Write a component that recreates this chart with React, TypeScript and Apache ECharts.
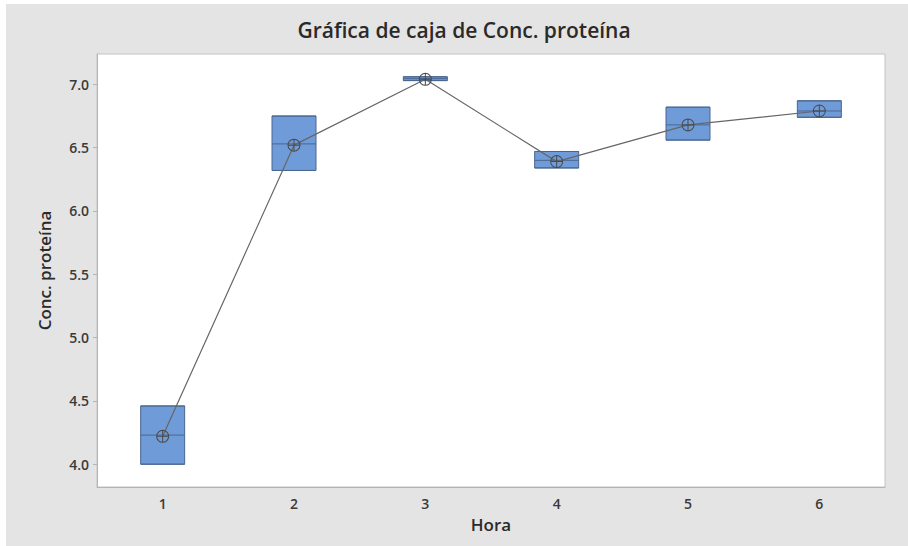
import React, { useEffect, useRef } from "react";
import * as echarts from "echarts";

const horas = ["1", "2", "3", "4", "5", "6"];
// [min, Q1, median, Q3, max]
const cajas = [
  [4.0, 4.0, 4.23, 4.46, 4.46],
  [6.32, 6.32, 6.53, 6.75, 6.75],
  [7.03, 7.03, 7.045, 7.06, 7.06],
  [6.34, 6.34, 6.4, 6.47, 6.47],
  [6.56, 6.56, 6.68, 6.82, 6.82],
  [6.74, 6.74, 6.79, 6.87, 6.87],
];
const medias = [4.22, 6.52, 7.04, 6.39, 6.68, 6.79];
const yTicks = [4.0, 4.5, 5.0, 5.5, 6.0, 6.5, 7.0];

const FONT = "'Open Sans', 'Noto Sans', sans-serif";
const meanSymbol =
  "path://M0,-6.5A6.5,6.5,0,1,1,0,6.5A6.5,6.5,0,1,1,0,-6.5ZM0,-5.5A5.5,5.5,0,1,0,0,5.5A5.5,5.5,0,1,0,0,-5.5ZM-5.5,-0.5H5.5V0.5H-5.5ZM-0.5,-5.5H0.5V-0.5H-0.5ZM-0.5,0.5H0.5V5.5H-0.5Z";

export default function App() {
  const ref = useRef<HTMLDivElement>(null);
  useEffect(() => {
    if (!ref.current) return;
    const chart = echarts.init(ref.current, null, { renderer: "svg" });
    chart.setOption({
      animation: false,
      backgroundColor: "#ffffff",
      graphic: [
        {
          type: "rect",
          z: -10,
          silent: true,
          shape: { x: 6, y: 4, width: 920, height: 560 },
          style: { fill: "#e4e4e4" },
        },
        {
          type: "text",
          x: 464,
          y: 30,
          style: {
            text: "Gráfica de caja de Conc. proteína",
            font: `600 21px ${FONT}`,
            fill: "#2a2a2a",
            textAlign: "center",
            textVerticalAlign: "middle",
          },
        },
      ],
      grid: {
        left: 97,
        top: 54,
        right: 23,
        bottom: 59,
        show: true,
        backgroundColor: "#ffffff",
        borderColor: "#c4c4c4",
        borderWidth: 1,
      },
      xAxis: {
        type: "category",
        data: horas,
        boundaryGap: true,
        name: "Hora",
        nameLocation: "middle",
        nameGap: 29,
        nameTextStyle: { fontFamily: FONT, fontSize: 17, fontWeight: 600, color: "#2a2a2a" },
        axisLine: { lineStyle: { color: "#b4b4b4" } },
        axisTick: { alignWithLabel: true, length: 4, lineStyle: { color: "#b4b4b4" } },
        axisLabel: { fontFamily: FONT, fontSize: 14, fontWeight: 600, color: "#3a3a3a", margin: 9 },
        splitLine: { show: false },
      },
      yAxis: {
        type: "value",
        min: 3.82,
        max: 7.24,
        name: "Conc. proteína",
        nameLocation: "middle",
        nameGap: 44,
        nameRotate: 90,
        nameTextStyle: { fontFamily: FONT, fontSize: 17, fontWeight: 600, color: "#2a2a2a" },
        axisLine: { show: true, lineStyle: { color: "#b4b4b4" } },
        axisTick: { show: true, length: 4, customValues: yTicks, lineStyle: { color: "#b4b4b4" } },
        axisLabel: {
          customValues: yTicks,
          fontFamily: FONT,
          fontSize: 14,
          fontWeight: 600,
          color: "#3a3a3a",
          margin: 8,
          formatter: (v: number) => v.toFixed(1),
        },
        splitLine: { show: false },
      },
      series: [
        {
          type: "boxplot",
          data: cajas,
          boxWidth: [44, 44],
          itemStyle: { color: "#6f9bd8", borderColor: "#4a6690", borderWidth: 1 },
          z: 2,
        },
        {
          type: "line",
          data: medias,
          symbol: meanSymbol,
          symbolSize: 13,
          symbolKeepAspect: true,
          lineStyle: { color: "#666666", width: 1.2 },
          itemStyle: { color: "#4a4a4a" },
          z: 3,
        },
      ],
    });
    return () => chart.dispose();
  }, []);
  return (
    <div
      ref={ref}
      style={{ position: "fixed", left: 0, top: 0, width: 908, height: 546 }}
    />
  );
}
